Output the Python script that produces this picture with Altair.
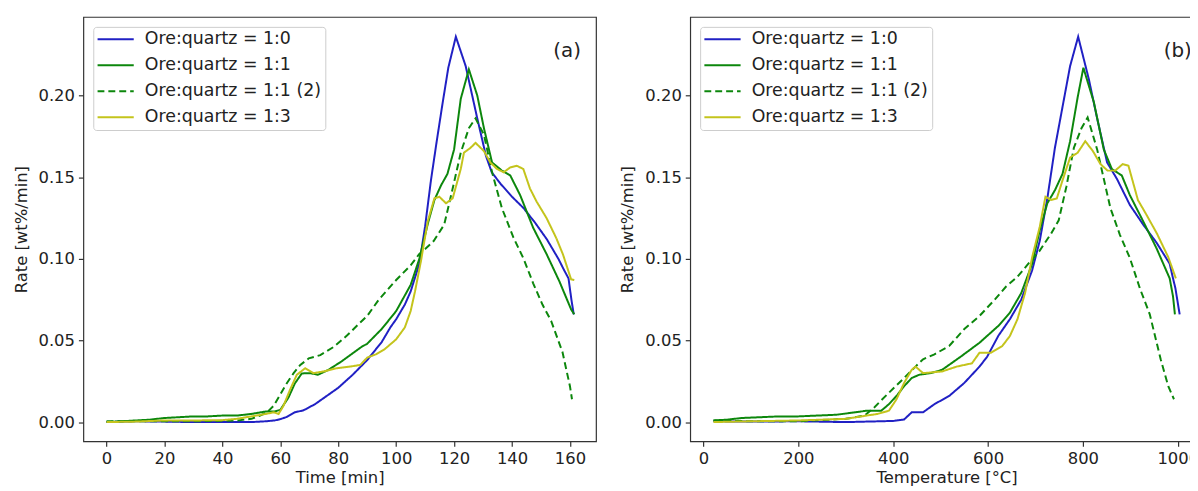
import altair as alt
import pandas as pd

# ---------- series names ----------
series_names = ["Ore:quartz = 1:0", "Ore:quartz = 1:1", "Ore:quartz = 1:1 (2)", "Ore:quartz = 1:3"]
series_colors = ["#2020c4", "#0c870c", "#0c870c", "#c4c41c"]
series_dash = [[1, 0], [1, 0], [7, 4], [1, 0]]

# ---------- panel (a): rate vs time ----------
t_10 = [0, 10, 20, 30, 40, 50, 55, 58, 60, 62, 65, 68, 72, 76, 80, 85, 90, 95, 98, 100, 103, 105, 108,
        110, 112, 114, 116, 118, 120.6, 124, 128, 131, 133, 136, 140, 144, 148, 152, 156, 158, 159.5, 160.5, 161.3]
r_10 = [0, 0.0005, 0.0003, 0, 0, 0, 0.0005, 0.001, 0.0018, 0.003, 0.006, 0.0072, 0.011, 0.016, 0.021, 0.029,
        0.038, 0.049, 0.058, 0.063, 0.072, 0.08, 0.097, 0.12, 0.148, 0.172, 0.195, 0.217, 0.236, 0.218, 0.186,
        0.163, 0.153, 0.146, 0.138, 0.131, 0.122, 0.112, 0.1, 0.093, 0.088, 0.075, 0.066]

t_11 = [0, 5, 10, 15, 20, 25, 30, 35, 40, 45, 50, 55, 58, 60, 62.8, 65, 67.4, 70.3, 73, 76.6, 81, 88, 90, 95,
        100, 105, 108, 111, 113.2, 115.5, 117.7, 120, 122.3, 125.1, 128, 130.3, 133.1, 136.5, 139.4, 142.8,
        147.3, 151.9, 156.4, 160.4, 161.5]
r_11 = [0, 0.0005, 0.001, 0.0015, 0.0025, 0.003, 0.0035, 0.0035, 0.004, 0.004, 0.005, 0.0065, 0.0065, 0.0075,
        0.015, 0.0236, 0.0298, 0.03, 0.029, 0.032, 0.037, 0.046, 0.048, 0.057, 0.068, 0.084, 0.1, 0.122, 0.136,
        0.145, 0.152, 0.167, 0.198, 0.216, 0.2, 0.18, 0.159, 0.154, 0.151, 0.139, 0.119, 0.103, 0.086, 0.069, 0.066]

t_11b = [0, 10, 20, 30, 40, 45, 50, 53, 55.4, 57.7, 60, 62.3, 64.6, 66.9, 69.8, 73.8, 78.4, 83, 87.6, 90, 94,
         100, 105, 108, 110, 113, 116.6, 119.5, 122.3, 125.1, 127.4, 130.3, 133.1, 136.5, 140.5, 144, 147.3,
         150.5, 153.5, 157.4, 160, 160.7]
r_11b = [0.0005, 0.0005, 0.0005, 0.0005, 0.0008, 0.001, 0.002, 0.004, 0.006, 0.01, 0.017, 0.024, 0.03, 0.035,
         0.039, 0.041, 0.046, 0.053, 0.061, 0.065, 0.075, 0.087, 0.096, 0.103, 0.106, 0.111, 0.121, 0.143, 0.165,
         0.18, 0.186, 0.176, 0.153, 0.131, 0.113, 0.1, 0.085, 0.072, 0.062, 0.043, 0.022, 0.014]

t_13 = [0, 10, 20, 30, 40, 45, 50, 55, 57.7, 59.4, 61.1, 63.4, 65.7, 68.6, 71.4, 74.9, 79.5, 84.1, 87.6, 90, 93,
        96, 100, 103, 105, 106.5, 108.6, 110.9, 113.2, 114.9, 117.2, 119.5, 122.3, 123.4, 125.7, 127.4, 130.3,
        132.5, 134.8, 137.1, 139.4, 141.6, 143.9, 146.2, 148.5, 151.9, 155.3, 157.6, 160.4, 161.5]
r_13 = [0, 0.0003, 0.001, 0.001, 0.0012, 0.002, 0.0035, 0.005, 0.006, 0.005, 0.01, 0.02, 0.029, 0.033, 0.03,
        0.031, 0.033, 0.034, 0.035, 0.0395, 0.0415, 0.0446, 0.0507, 0.058, 0.068, 0.08, 0.099, 0.123, 0.137,
        0.138, 0.134, 0.137, 0.155, 0.165, 0.168, 0.171, 0.166, 0.159, 0.155, 0.153, 0.156, 0.157, 0.155, 0.143,
        0.135, 0.125, 0.1126, 0.1026, 0.0874, 0.087]

# ---------- panel (b): rate vs temperature ----------
T_10 = [21, 100, 200, 300, 400, 423, 439, 463, 487, 518, 550, 582, 598, 622, 646, 670, 693, 709, 725, 741, 757,
        773, 790, 812.5, 830, 851, 871.6, 899, 927, 955, 983, 990, 995, 1004]
q_10 = [0.0005, 0.0003, 0.0005, 0, 0.0007, 0.0016, 0.006, 0.006, 0.011, 0.016, 0.024, 0.034, 0.04, 0.053,
        0.063, 0.075, 0.093, 0.111, 0.137, 0.168, 0.193, 0.218, 0.236, 0.21, 0.186, 0.159, 0.149, 0.133, 0.121,
        0.11, 0.097, 0.088, 0.082, 0.066]

T_11 = [21, 50, 80, 120, 160, 200, 240, 280, 320, 344, 375, 391, 407, 423, 439, 455, 479, 503, 542, 582, 622,
        646, 670, 693, 709, 725, 741, 757, 773, 789, 801, 823, 844, 861, 882, 899, 927, 955, 983, 990, 994]
q_11 = [0.001, 0.0015, 0.0025, 0.003, 0.0035, 0.0035, 0.004, 0.0045, 0.006, 0.007, 0.007, 0.011, 0.016, 0.022,
        0.027, 0.029, 0.03, 0.032, 0.04, 0.0486, 0.059, 0.067, 0.079, 0.097, 0.1175, 0.134, 0.142, 0.152, 0.172,
        0.199, 0.217, 0.196, 0.167, 0.155, 0.151, 0.139, 0.123, 0.1066, 0.088, 0.077, 0.066]

T_11b = [21, 100, 200, 300, 340, 360, 391, 423, 447, 463, 487, 518, 550, 582, 614, 638, 662, 685, 709, 733, 749,
         765, 781, 797, 810, 830, 844, 858, 878, 899, 920, 941, 964, 980, 992]
q_11b = [0.001, 0.0005, 0.0005, 0.002, 0.004, 0.009, 0.018, 0.027, 0.034, 0.0385, 0.0415, 0.0466, 0.057, 0.065,
         0.075, 0.083, 0.089, 0.097, 0.105, 0.1155, 0.1236, 0.144, 0.168, 0.18, 0.1866, 0.167, 0.149, 0.131,
         0.1147, 0.1005, 0.082, 0.066, 0.0385, 0.022, 0.014]

T_13 = [21, 100, 200, 300, 344, 367, 391, 407, 423, 439, 447, 463, 503, 534, 566, 582, 606, 630, 646, 662, 678,
        693, 709, 721, 733, 745, 757, 773, 789, 805, 821, 837, 852, 868, 884, 896, 916, 932, 956, 980, 996]
q_13 = [0, 0.0005, 0.001, 0.002, 0.004, 0.005, 0.007, 0.014, 0.024, 0.032, 0.034, 0.03, 0.031, 0.034, 0.036,
        0.0425, 0.0425, 0.0466, 0.0527, 0.063, 0.079, 0.101, 0.1196, 0.138, 0.136, 0.137, 0.148, 0.162, 0.165,
        0.172, 0.166, 0.158, 0.154, 0.154, 0.158, 0.157, 0.136, 0.128, 0.1155, 0.101, 0.088]

# ---------- tick values and panel tags ----------
y_ticks = [0.0, 0.05, 0.10, 0.15, 0.20]
time_ticks = [0, 20, 40, 60, 80, 100, 120, 140, 160]
temp_ticks = [0, 200, 400, 600, 800, 1000]
tag_text = ["(a)", "(b)"]
tag_x = [159, 1000]
tag_y = [0.227, 0.227]


def long_frame(xs_list, ys_list):
    rows = []
    for name, xs, ys in zip(series_names, xs_list, ys_list):
        for i, (x, y) in enumerate(zip(xs, ys)):
            rows.append({"x": x, "rate": y, "series": name, "idx": i})
    return pd.DataFrame(rows)


df_a = long_frame([t_10, t_11, t_11b, t_13], [r_10, r_11, r_11b, r_13])
df_b = long_frame([T_10, T_11, T_11b, T_13], [q_10, q_11, q_11b, q_13])

FONT = "DejaVu Sans"
TXT = "#222222"

legend = alt.Legend(
    title=None, orient="top-left", offset=10, symbolType="stroke", symbolSize=1340,
    symbolStrokeWidth=2, symbolOffset=-1, labelFont=FONT, labelFontSize=17.5, labelColor=TXT,
    labelOffset=10, clipHeight=17, rowPadding=8.2, padding=4,
    fillColor="rgba(255,255,255,0.85)", strokeColor="#cccccc", cornerRadius=3, labelLimit=400,
)

y_scale = alt.Scale(domain=[-0.0118, 0.2481], nice=False, zero=False)
y_axis = alt.Axis(values=y_ticks, format=".2f", title="Rate [wt%/min]")


def panel(df, xdomain, xticks, xtitle, tag_idx):
    lines = alt.Chart(df).mark_line(strokeWidth=2, clip=True).encode(
        x=alt.X("x:Q", scale=alt.Scale(domain=xdomain, nice=False, zero=False),
                axis=alt.Axis(values=xticks, format="d", title=xtitle)),
        y=alt.Y("rate:Q", scale=y_scale, axis=y_axis),
        color=alt.Color("series:N", scale=alt.Scale(domain=series_names, range=series_colors),
                        legend=legend),
        strokeDash=alt.StrokeDash("series:N", scale=alt.Scale(domain=series_names, range=series_dash),
                                  legend=legend),
        order="idx:Q",
        detail="series:N",
    )
    tag_df = pd.DataFrame({"tx": [tag_x[tag_idx]], "ty": [tag_y[tag_idx]], "label": [tag_text[tag_idx]]})
    tag = alt.Chart(tag_df).mark_text(font=FONT, fontSize=20, color=TXT, align="center",
                                      baseline="middle").encode(
        x=alt.X("tx:Q"), y=alt.Y("ty:Q"), text="label:N")
    return alt.layer(lines, tag).properties(width=517, height=428)


left = panel(df_a, [-8, 169], time_ticks, "Time [min]", 0)
right = panel(df_b, [-28, 1053], temp_ticks, "Temperature [°C]", 1)

chart = alt.hconcat(left, right, spacing=22).resolve_scale(
    color="independent", strokeDash="independent"
).properties(
    padding={"left": 4, "top": 6, "right": -14, "bottom": 0}
).configure_view(
    stroke="#333333", strokeWidth=1.2
).configure_axis(
    labelFont=FONT, labelFontSize=16.5, labelColor=TXT, labelPadding=4,
    titleFont=FONT, titleFontSize=16.5, titleFontWeight="normal", titleColor=TXT,
    tickColor="#333333", tickSize=5, tickWidth=1.2, domain=False, grid=False,
).configure_axisX(titlePadding=3).configure_axisY(titlePadding=9)

chart.save("out.html", embed_options={"renderer": "svg", "actions": False})
